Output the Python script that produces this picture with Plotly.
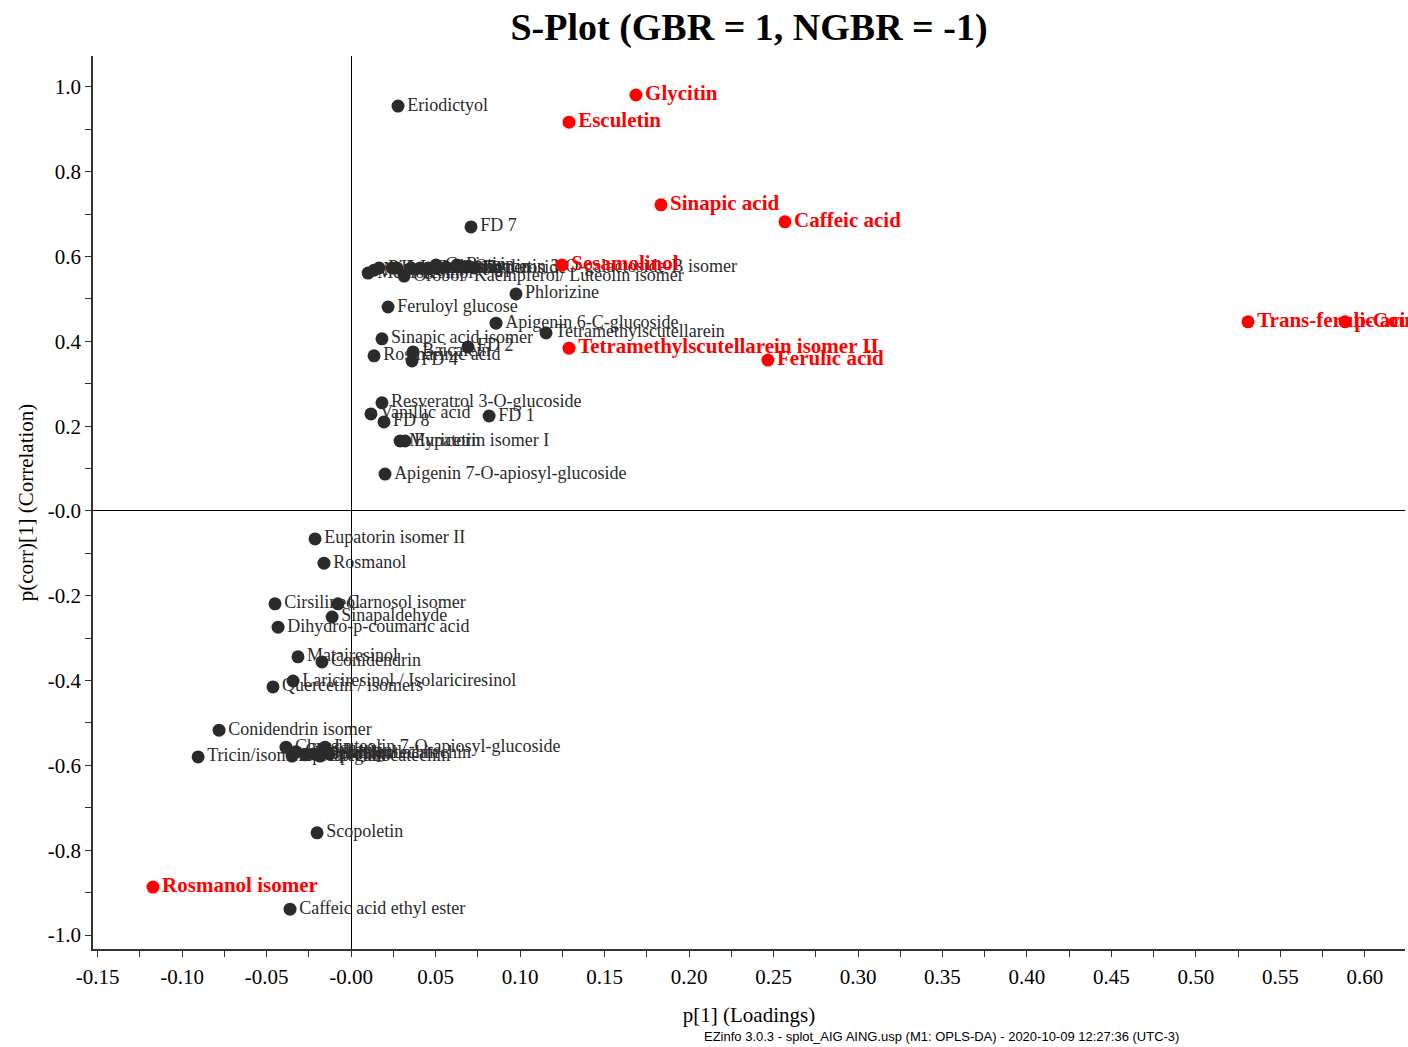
import plotly.graph_objects as go

# Loadings p[1] and correlations p(corr)[1] of the discriminating compounds
marked_names = [
    "Glycitin", "Esculetin", "Sinapic acid", "Caffeic acid", "Sesamolinol",
    "Tetramethylscutellarein isomer II", "Ferulic acid", "Trans-ferulic acid",
    "p-Coumaric acid", "Rosmanol isomer",
]
marked_p = [0.1686, 0.1290, 0.1834, 0.2568, 0.1249, 0.1290, 0.2467, 0.5308, 0.5882, -0.1172]
marked_pcorr = [0.981, 0.917, 0.722, 0.682, 0.580, 0.384, 0.356, 0.446, 0.446, -0.887]

other_names = [
    "Eriodictyol", "FD 7",
    "Medioresinol", "Naringenin", "Pinoresinol", "Hesperetin", "Isorhamnetin",
    "Orobol/ Kaempferol/ Luteolin isomer", "Luteolin", "Quercitrin", "Daidzein",
    "Genistein", "Astragalin", "Rutin", "Quercetin 3-O-galactoside-B isomer", "Hyperoside",
    "Phlorizine", "Feruloyl glucose", "Apigenin 6-C-glucoside", "Tetramethylscutellarein",
    "Sinapic acid isomer", "FD 2", "Rosmarinic acid", "Baicalein", "FD 4",
    "Resveratrol 3-O-glucoside", "Vanillic acid", "FD 8", "FD 1",
    "Myricetin", "Eupatorin isomer I", "Apigenin 7-O-apiosyl-glucoside",
    "Eupatorin isomer II", "Rosmanol", "Cirsilineol", "Carnosol isomer", "Sinapaldehyde",
    "Dihydro-p-coumaric acid", "Matairesinol", "Conidendrin",
    "Lariciresinol / Isolariciresinol", "Quercetin / isomers", "Conidendrin isomer",
    "Tricin/isomers", "Chrysin", "Cirsimaritin", "Epicatechin", "Hispidulin",
    "Methylgallocatechin", "Epigallocatechin", "Luteolin 7-O-apiosyl-glucoside",
    "Gallocatechin", "Scopoletin", "Caffeic acid ethyl ester",
]
other_p = [
    0.0278, 0.0710,
    0.0101, 0.0136, 0.0166, 0.0243, 0.0272,
    0.0314, 0.0355, 0.0408, 0.0456,
    0.0503, 0.0562, 0.0627, 0.0680, 0.0728,
    0.0976, 0.0219, 0.0858, 0.1154,
    0.0183, 0.0692, 0.0136, 0.0367, 0.0361,
    0.0183, 0.0118, 0.0195, 0.0817,
    0.0290, 0.0320, 0.0201,
    -0.0213, -0.0160, -0.0450, -0.0077, -0.0112,
    -0.0432, -0.0314, -0.0172,
    -0.0343, -0.0462, -0.0781,
    -0.0905, -0.0385, -0.0325, -0.0349, -0.0272,
    -0.0219, -0.0183, -0.0154,
    -0.0130, -0.0201, -0.0361,
]
other_pcorr = [
    0.955, 0.670,
    0.561, 0.568, 0.573, 0.573, 0.573,
    0.554, 0.573, 0.573, 0.573,
    0.580, 0.575, 0.580, 0.575, 0.573,
    0.512, 0.481, 0.443, 0.420,
    0.406, 0.387, 0.366, 0.375, 0.354,
    0.255, 0.229, 0.210, 0.224,
    0.165, 0.165, 0.087,
    -0.066, -0.123, -0.219, -0.219, -0.250,
    -0.274, -0.344, -0.356,
    -0.401, -0.415, -0.517,
    -0.580, -0.557, -0.568, -0.578, -0.575,
    -0.573, -0.578, -0.557,
    -0.573, -0.759, -0.939,
]

x_tick_vals = [-0.15, -0.10, -0.05, 0.0, 0.05, 0.10, 0.15, 0.20, 0.25, 0.30,
               0.35, 0.40, 0.45, 0.50, 0.55, 0.60]
x_tick_text = ["-0.15", "-0.10", "-0.05", "-0.00", "0.05", "0.10", "0.15", "0.20",
               "0.25", "0.30", "0.35", "0.40", "0.45", "0.50", "0.55", "0.60"]
y_tick_vals = [-1.0, -0.8, -0.6, -0.4, -0.2, 0.0, 0.2, 0.4, 0.6, 0.8, 1.0]
y_tick_text = ["-1.0", "-0.8", "-0.6", "-0.4", "-0.2", "-0.0", "0.2", "0.4", "0.6", "0.8", "1.0"]

SERIF = "Liberation Serif"

fig = go.Figure()

fig.add_trace(go.Scatter(
    x=other_p, y=other_pcorr, text=other_names,
    mode="markers+text", textposition="middle right",
    marker=dict(size=13, color="#2b2b2b"),
    textfont=dict(family=SERIF, size=18, color="#2b2b2b"),
    cliponaxis=False, showlegend=False,
))

fig.add_trace(go.Scatter(
    x=marked_p, y=marked_pcorr, text=marked_names,
    mode="markers+text", textposition="middle right",
    marker=dict(size=13, color="#ff0000"),
    textfont=dict(family=SERIF, size=21, color="#ff0000", weight="bold"),
    cliponaxis=False, showlegend=False,
))

axis_common = dict(
    showgrid=False,
    showline=True, linecolor="#333333", linewidth=1.5,
    zeroline=True, zerolinecolor="black", zerolinewidth=1,
    ticks="outside", ticklen=6, tickcolor="#333333", tickwidth=1,
    tickfont=dict(family=SERIF, size=21, color="black"),
)

fig.update_xaxes(
    **axis_common,
    range=[-0.1527, 0.6237],
    tickmode="array", tickvals=x_tick_vals, ticktext=x_tick_text,
    minor=dict(ticks="outside", dtick=0.025, tick0=0, ticklen=6, tickcolor="#333333"),
    ticklabelstandoff=2,
    title=dict(text="p[1] (Loadings)", font=dict(family=SERIF, size=21, color="black"),
               standoff=19),
)
fig.update_yaxes(
    **axis_common,
    range=[-1.033, 1.073],
    tickmode="array", tickvals=y_tick_vals, ticktext=y_tick_text,
    minor=dict(ticks="outside", dtick=0.1, tick0=0, ticklen=6, tickcolor="#333333"),
    title=dict(text="p(corr)[1] (Correlation)", font=dict(family=SERIF, size=21, color="black"),
               standoff=8),
)

fig.add_annotation(
    text="EZinfo 3.0.3 - splot_AIG AING.usp (M1: OPLS-DA) - 2020-10-09 12:27:36 (UTC-3)",
    xref="paper", yref="paper", x=0.647, y=-0.0985,
    xanchor="center", yanchor="middle", showarrow=False,
    font=dict(family="Liberation Sans", size=13, color="black"),
)

fig.update_layout(
    width=1408, height=1047,
    margin=dict(l=93, r=3, t=56, b=98),
    paper_bgcolor="white", plot_bgcolor="white",
    title=dict(
        text="S-Plot (GBR = 1, NGBR = -1)",
        x=0.5, xref="paper", xanchor="center",
        y=1 - 27 / 1047, yref="container", yanchor="middle",
        font=dict(family=SERIF, size=38, color="black", weight="bold"),
    ),
)

fig.write_html("out.html")
